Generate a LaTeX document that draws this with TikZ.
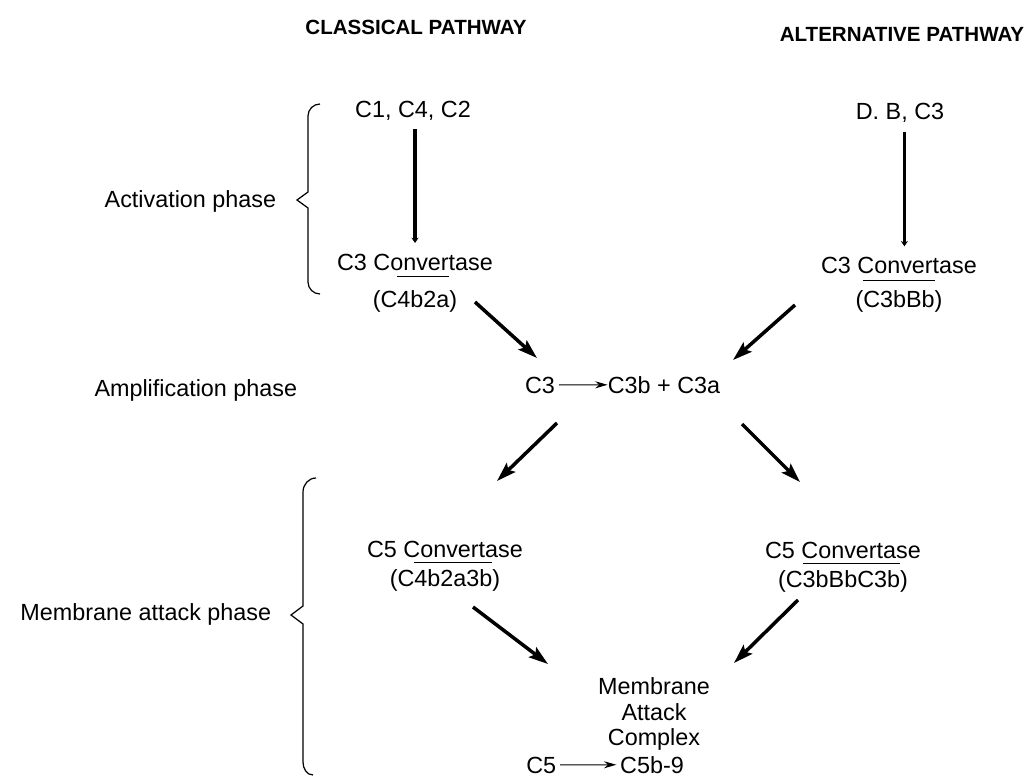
\documentclass[tikz,border=0pt]{standalone}
\usepackage{fontspec}
\setmainfont{Liberation Sans}
\usepackage{tikz}
\usetikzlibrary{positioning,arrows.meta,calc}
\newsavebox{\cvbox}
\newcommand{\cvbar}[2][1.2em]{\sbox\cvbox{#2}\rlap{\smash{\rule[#1]{\wd\cvbox}{0.8pt}}}\usebox\cvbox}
\tikzset{
    heading/.style = {
        font=\bfseries\fontsize{11.7}{13}\selectfont,
        inner sep=2pt
    },
    term/.style = {
        font=\fontsize{13.3}{14.6}\selectfont,
        align=center,
        inner sep=2pt
    },
    phase/.style = {
        font=\fontsize{13.3}{16}\selectfont,
        anchor=base east,
        inner sep=2pt
    },
    flow/.style = {
        line width=2pt,
        -{Stealth[length=11pt,width=7pt,inset=2pt]}
    },
    feed/.style = {
        line width=1.9pt,
        -{Stealth[length=3pt,width=4pt]}
    },
    react/.style = {
        line width=0.6pt,
        -{Stealth[length=7pt,width=4pt]}
    },
    brace/.style = {
        line width=0.7pt
    },
}

\begin{document}
\begin{tikzpicture}[x=0.02cm, y=-0.02cm]
            \useasboundingbox (0,0) rectangle (1031,777);
            \node[heading, anchor=base] (hcl) at (416,35) {CLASSICAL PATHWAY};
            \node[heading, anchor=base] (halt) at (902,42) {ALTERNATIVE PATHWAY};
            \node[term, anchor=base] (srccl) at (413,117) {C1, C4, C2};
            \node[term, anchor=base] (srcalt) at (900,120) {D. B, C3};
            \node[term] (c3cl) at (415,283) {C3 Convertase\\[6.5pt](C\cvbar[1.28em]{4b2a})};
            \node[term] (c3alt) at (899,285) {C3 Convertase\\[5pt](\cvbar[1.15em]{C3bBb})};
            \node[term, anchor=base] (c3) at (540,393) {C3};
            \node[term, anchor=base west] (c3ab) at (604,393) {C3b + C3a};
            \node[term] (c5cl) at (445,566) {C5 Convertase\\[2pt](C\cvbar[1em]{4b2a3b})};
            \node[term] (c5alt) at (843,567) {C5 Convertase\\[2pt](C\cvbar[1em]{3bBbC3b})};
            \node[term] (mac) at (654,714) {Membrane\\Attack\\Complex};
            \node[term, anchor=base] (c5b9) at (652,773) {C5b-9};
            \node[term, anchor=base east] (c5) at (560,773) {C5};
            \node[phase] (act) at (280,207) {Activation phase};
            \node[phase] (amp) at (301,396) {Amplification phase};
            \node[phase] (mem) at (275,620) {Membrane attack phase};

            \coordinate (l1a) at (475,302);
            \coordinate (l1b) at (537,358);
            \coordinate (r1a) at (795,305);
            \coordinate (r1b) at (733,360);
            \coordinate (l2a) at (557,423);
            \coordinate (l2b) at (497,481);
            \coordinate (r2a) at (742,424);
            \coordinate (r2b) at (800,482);
            \coordinate (l3a) at (473,607);
            \coordinate (l3b) at (548,664);
            \coordinate (r3a) at (798,600);
            \coordinate (r3b) at (734,663);

            \path[draw, feed, shorten <=3pt, shorten >=4pt] (c3cl.north |- srccl.south) -- (c3cl.north);
            \path[draw, feed, shorten <=3pt, shorten >=4pt] ([xshift=2.5pt]srcalt.south) -- ([xshift=2.5pt]srcalt.south |- c3alt.north);
            \path[draw, flow] (l1a) -- (l1b);
            \path[draw, flow] (r1a) -- (r1b);
            \path[draw, react, shorten >=-2pt] (c3) -- (c3ab);
            \path[draw, flow] (l2a) -- (l2b);
            \path[draw, flow] (r2a) -- (r2b);
            \path[draw, flow] (l3a) -- (l3b);
            \path[draw, flow] (r3a) -- (r3b);
            \path[draw, react] (c5) -- (c5b9);

            \path[draw, brace] (320,104) to[out=180,in=90] (308,116) -- (308,192) -- (297,200) -- (308,208) -- (308,282) to[out=-90,in=180] (320,294);
            \path[draw, brace] (316,478) to[out=180,in=90] (303,492) -- (303,606) -- (291,615) -- (303,624) -- (303,762) to[out=-90,in=180] (313,775);
        \end{tikzpicture}
\end{document}
